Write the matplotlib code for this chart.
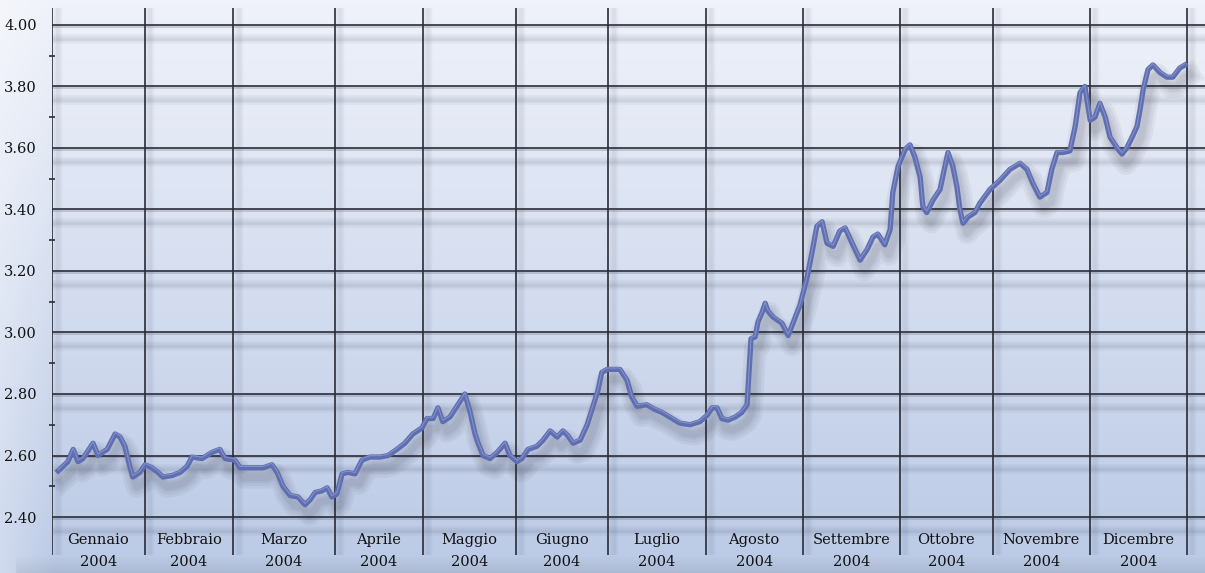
import matplotlib
matplotlib.use("Agg")
import matplotlib.pyplot as plt
import matplotlib.patheffects as pe
import numpy as np

# months and trading-day index where each one starts (last = year end)
month_names = ["Gennaio", "Febbraio", "Marzo", "Aprile", "Maggio", "Giugno",
               "Luglio", "Agosto", "Settembre", "Ottobre", "Novembre", "Dicembre"]
year_label = "2004"
month_start_day = [0, 21, 41, 64, 84, 105, 126, 148, 170, 192, 213, 235, 257]

# values (trading-day index, price)
day = [1.4, 3.6, 4.8, 5.9, 7.0, 9.3, 10.4, 12.5, 14.3, 15.4, 16.5, 17.7, 18.3, 19.9,
       21.1, 22.6, 24.0, 25.1, 27.2, 29.0, 30.6, 31.7, 34.0, 36.2, 38.0, 39.2,
       41.4, 42.6, 44.8, 47.8, 49.8, 51.0, 52.3, 53.9, 55.7, 57.3, 58.4, 59.6, 61.1, 62.3, 63.4,
       64.5, 65.7, 67.0, 68.6, 70.2, 72.0, 74.3, 76.1, 78.1, 79.9, 81.7, 83.8,
       84.9, 86.3, 87.4, 88.5, 90.1, 91.7, 93.5, 94.7, 95.8, 96.5, 97.6, 99.2, 100.8, 102.6, 103.7,
       105.3, 106.4, 107.8, 109.8, 111.2, 112.8, 114.4, 115.7, 116.8, 118.0, 119.6, 121.2, 122.5,
       123.6, 124.5, 125.7,
       128.6, 130.2, 131.3, 132.5, 134.7, 136.5, 138.1, 139.9, 142.2, 144.5, 146.7,
       148.3, 149.5, 150.6, 151.7, 153.1, 154.7, 156.2, 157.4, 158.3, 159.2, 159.9, 160.8, 161.5,
       162.1, 163.3, 165.3, 166.7, 167.8, 169.4,
       171.0, 172.1, 173.2, 174.4, 175.5, 176.9, 178.4, 179.6, 181.2, 183.0, 184.6, 185.9, 187.0,
       188.6, 189.8, 190.4, 191.6,
       193.2, 194.3, 195.4, 196.6, 197.2, 198.1, 199.5, 201.1, 202.2, 202.9, 204.0, 204.9, 205.6,
       206.3, 207.4, 209.0, 210.1, 212.4,
       214.7, 216.9, 219.2, 220.8, 222.1, 223.7, 225.3, 226.4, 227.6, 228.9, 230.5, 231.7, 232.8,
       233.9,
       235.1, 236.2, 237.3, 238.5, 239.6, 241.2, 242.3, 243.4, 244.6, 245.7, 246.4, 247.1, 248.2,
       249.3, 250.9, 252.5, 253.8, 255.4, 256.6]
price = [2.55, 2.58, 2.62, 2.58, 2.59, 2.64, 2.60, 2.62, 2.67, 2.66, 2.63, 2.56, 2.53, 2.545,
         2.57, 2.56, 2.545, 2.53, 2.535, 2.545, 2.565, 2.595, 2.59, 2.61, 2.62, 2.59,
         2.585, 2.56, 2.56, 2.56, 2.57, 2.545, 2.50, 2.47, 2.465, 2.44, 2.455, 2.48, 2.485, 2.495, 2.465,
         2.475, 2.54, 2.545, 2.54, 2.585, 2.595, 2.595, 2.60, 2.62, 2.64, 2.67, 2.69,
         2.72, 2.72, 2.755, 2.71, 2.725, 2.76, 2.80, 2.74, 2.67, 2.64, 2.60, 2.59, 2.61, 2.64, 2.60,
         2.58, 2.59, 2.62, 2.63, 2.65, 2.68, 2.66, 2.68, 2.665, 2.64, 2.65, 2.70, 2.76,
         2.81, 2.87, 2.88,
         2.88, 2.845, 2.79, 2.76, 2.765, 2.75, 2.74, 2.725, 2.705, 2.70, 2.71,
         2.73, 2.755, 2.755, 2.72, 2.715, 2.725, 2.74, 2.765, 2.98, 2.985, 3.035, 3.065, 3.095,
         3.07, 3.05, 3.03, 2.99, 3.03, 3.09,
         3.18, 3.26, 3.345, 3.36, 3.29, 3.28, 3.33, 3.34, 3.29, 3.235, 3.27, 3.31, 3.32,
         3.285, 3.335, 3.455, 3.54,
         3.595, 3.61, 3.57, 3.505, 3.41, 3.39, 3.43, 3.465, 3.54, 3.585, 3.54, 3.475, 3.40,
         3.355, 3.375, 3.39, 3.42, 3.465,
         3.495, 3.53, 3.55, 3.53, 3.485, 3.44, 3.455, 3.53, 3.585, 3.585, 3.59, 3.67, 3.78,
         3.80,
         3.69, 3.70, 3.745, 3.70, 3.635, 3.60, 3.58, 3.60, 3.635, 3.67, 3.725, 3.79, 3.855,
         3.87, 3.845, 3.83, 3.83, 3.86, 3.87]

y_ticks = [2.40, 2.60, 2.80, 3.00, 3.20, 3.40, 3.60, 3.80, 4.00]
y_minor = [2.50, 2.70, 2.90, 3.10, 3.30, 3.50, 3.70, 3.90]

serif = "DejaVu Serif"


def soft_shadow(offset, color, widths, alpha):
    # stack of wide, faint strokes to fake a blurred shadow
    return [pe.SimpleLineShadow(offset=offset, shadow_color=color, alpha=alpha,
                                linewidth=lw) for lw in widths]


fig = plt.figure(figsize=(12.05, 5.73), dpi=100)

# background gradient over the whole picture
bg = fig.add_axes([0, 0, 1, 1], zorder=0)
bg.set_axis_off()
h, w = 300, 600
t = np.linspace(0, 1, h)[:, None, None]
top = np.array([0.94, 0.95, 0.98])
bottom = np.array([0.73, 0.79, 0.90])
img = top * (1 - t) + bottom * t
img = np.repeat(img, w, axis=1)
xs = np.linspace(0, 1, w)[None, :, None]
light = np.clip((0.045 - xs) / 0.045, 0, 1) * 0.3
img = img * (1 - light) + light
# slightly darker band along the bottom edge
yb = np.linspace(1, 0, h)[:, None, None]
dark = np.clip((0.03 - yb) / 0.03, 0, 1) * (xs > 0.012) * 0.07
img = img * (1 - dark)
bg.imshow(img, extent=[0, 1, 0, 1], aspect="auto", origin="upper")
bg.set_xlim(0, 1)
bg.set_ylim(0, 1)

ax = fig.add_axes([52 / 1205, 0, 1153 / 1205, 1], zorder=1)
ax.patch.set_alpha(0)
ax.set_xlim(0, 261.1)
ax.set_ylim(2.218, 4.081)
for s in ax.spines.values():
    s.set_visible(False)

grid_col = "#2a2c36"
for v in y_ticks:
    ax.axhline(v, color=grid_col, lw=1.2, zorder=2,
               path_effects=soft_shadow((0, -10), "#404860", [7, 4, 2], 0.05)
               + [pe.SimpleLineShadow(offset=(0, -1.3), shadow_color="#404860",
                                      alpha=0.25, linewidth=1.2),
                  pe.Normal()])
ax.vlines(month_start_day, 2.277, 4.055, color=grid_col, lw=1.2, zorder=2,
          path_effects=soft_shadow((4, 0), "#404860", [6, 3], 0.05) + [pe.Normal()])

ax.set_yticks(y_ticks)
ax.set_yticklabels([f"{v:.2f}" for v in y_ticks], fontfamily=serif, fontsize=10.5,
                   color="#111111")
ax.set_yticks(y_minor, minor=True)
ax.tick_params(axis="y", which="major", length=0, pad=11)
ax.tick_params(axis="y", which="minor", length=4, width=1.2, direction="inout",
               color=grid_col)
ax.set_xticks([])

# series with a soft drop shadow
ax.plot(day, price, color="#5f6eb0", lw=3.8, solid_joinstyle="round", zorder=4,
        path_effects=soft_shadow((3, -7), "#202030", [16, 12, 8, 5], 0.05)
        + [pe.Normal(),
           pe.Stroke(offset=(0, 1.0), linewidth=0.8, foreground="#9aa7dc", alpha=0.6)])

for i, name in enumerate(month_names):
    cx = (month_start_day[i] + month_start_day[i + 1]) / 2
    ax.text(cx, 2.326, name, ha="center", va="center", fontfamily=serif,
            fontsize=10.5, color="#111111", zorder=5)
    ax.text(cx, 2.254, year_label, ha="center", va="center", fontfamily=serif,
            fontsize=10.5, color="#111111", zorder=5)

fig.savefig("out.png", dpi=100)
